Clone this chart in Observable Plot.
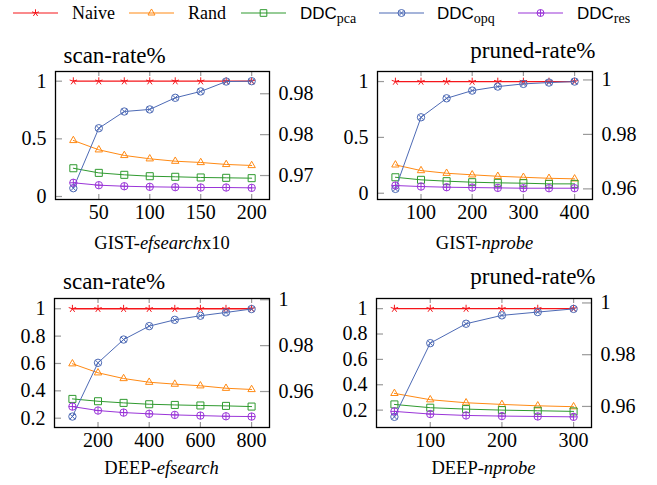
<!DOCTYPE html>
<html><head><meta charset="utf-8">
<script src="https://cdn.jsdelivr.net/npm/d3@7"></script>
<script src="https://cdn.jsdelivr.net/npm/@observablehq/plot@0.6"></script>
</head>
<body style="margin:0;background:#fff">
<div id="wrap" style="position:relative;width:657px;height:485px;overflow:hidden;background:#fff"></div>
<script>
// ---- data ----
const seriesNames = ["Naive","Rand","DDC_pca","DDC_opq","DDC_res"];
// GIST-efsearch x10
const xGE = [25,50,75,100,125,150,175,200];
const naiveGE = [1,1,1,1,1,1,1,1];
const randGE = [0.486,0.405,0.356,0.327,0.306,0.295,0.278,0.269];
const pcaGE  = [0.245,0.205,0.188,0.176,0.171,0.165,0.162,0.159];
const opqGE  = [0.072,0.592,0.737,0.755,0.856,0.911,0.997,1.0];
const resGE  = [0.119,0.098,0.089,0.084,0.081,0.078,0.078,0.075];
// GIST-nprobe
const xGN = [50,100,150,200,250,300,350,400];
const naiveGN = [1,1,1,1,1,1,1,1];
const randGN = [0.254,0.203,0.179,0.165,0.152,0.143,0.134,0.129];
const pcaGN  = [0.143,0.12,0.108,0.099,0.093,0.09,0.084,0.084];
const opqGN  = [0.039,0.68,0.85,0.919,0.955,0.979,0.991,1.0];
const resGN  = [0.069,0.06,0.054,0.051,0.048,0.045,0.045,0.045];
// DEEP-efsearch
const xDE = [100,200,300,400,500,600,700,800];
const naiveDE = [1,1,1,1,1,1,1,1];
const randDE = [0.598,0.532,0.49,0.463,0.449,0.437,0.419,0.41];
const pcaDE  = [0.341,0.324,0.312,0.302,0.297,0.293,0.29,0.285];
const opqDE  = [0.212,0.605,0.775,0.873,0.919,0.949,0.973,0.998];
const resDE  = [0.285,0.256,0.241,0.232,0.224,0.219,0.214,0.212];
// DEEP-nprobe
const xDN = [50,100,150,200,250,300];
const naiveDN = [1,1,1,1,1,1];
const randDN = [0.332,0.282,0.258,0.245,0.234,0.227];
const pcaDN  = [0.245,0.219,0.208,0.2,0.195,0.19];
const opqDN  = [0.147,0.728,0.881,0.947,0.973,0.998];
const resDN  = [0.19,0.169,0.158,0.153,0.15,0.147];
// tick labels
const xTicksGE = [50,100,150,200], xTicksGN = [100,200,300,400], xTicksDE = [200,400,600,800], xTicksDN = [100,200,300];
const yTicksG = [0,0.5,1], yTicksD = [0.2,0.4,0.6,0.8,1];
const rTicksGE = [0.98,0.975,0.97], rLabelsGE = ["0.98","0.98","0.97"];
const rTicks = [1,0.98,0.96], rLabels = ["1","0.98","0.96"];

// ---- styles ----
const SANS = "Liberation Sans, sans-serif";
const colors = ["#f5161b","#ff8a14","#2f9a2f","#4d6ab5","#9a35d8"];
const Rr = s => Math.sqrt(s/Math.PI);
const symStar = {draw(c,s){const r=Rr(s)*1.05;for(let k=0;k<5;k++){const a=-Math.PI/2+k*2*Math.PI/5;c.moveTo(0,0);c.lineTo(r*Math.cos(a),r*Math.sin(a));}}};
const symTri = {draw(c,s){const r=Rr(s)*1.15;c.moveTo(0,-r);c.lineTo(r*0.866,r*0.5);c.lineTo(-r*0.866,r*0.5);c.closePath();}};
const symSq = {draw(c,s){const h=Rr(s)*0.95;c.moveTo(-h,-h);c.lineTo(h,-h);c.lineTo(h,h);c.lineTo(-h,h);c.closePath();}};
const symOtimes = {draw(c,s){const r=Rr(s);c.moveTo(r,0);c.arc(0,0,r,0,2*Math.PI);const d=r*0.7071;c.moveTo(-d,-d);c.lineTo(d,d);c.moveTo(-d,d);c.lineTo(d,-d);}};
const symOplus = {draw(c,s){const r=Rr(s);c.moveTo(r,0);c.arc(0,0,r,0,2*Math.PI);c.moveTo(-r,0);c.lineTo(r,0);c.moveTo(0,-r);c.lineTo(0,r);}};
const symbols = [symStar,symTri,symSq,symOtimes,symOplus];

const wrap = document.getElementById("wrap");

function panel(o){
  const fw = o.width - o.ml - o.mr, fh = o.height - o.mt - o.mb;
  const [y0,y1] = o.yDomain, [r0,r1] = o.rDomain;
  const rToY = r => y0 + (r - r0)/(r1 - r0)*(y1 - y0);
  const rPos = o.rTicks.map(rToY);
  const rMap = new Map(rPos.map((p,i)=>[p,o.rLabels[i]]));
  const marks = [
    Plot.tickY(o.yTicks,{y:d=>d,insetRight:fw-7,stroke:"#9a9a9a",strokeWidth:1.2}),
    Plot.tickY(rPos,{y:d=>d,insetLeft:fw-9,stroke:"#9a9a9a",strokeWidth:1.2}),
    Plot.tickX(o.xTicks,{x:d=>d,insetBottom:fh-5,stroke:"#9a9a9a",strokeWidth:1.2}),
    Plot.tickX(o.xTicks,{x:d=>d,insetTop:fh-5,stroke:"#9a9a9a",strokeWidth:1.2}),
  ];
  o.series.forEach((vals,k)=>{
    const data = o.x.map((xv,i)=>({x:xv,y:vals[i]}));
    marks.push(Plot.line(data,{x:"x",y:"y",stroke:colors[k],strokeWidth:k===0?1.3:1}));
    marks.push(Plot.dot(data,{x:"x",y:"y",r:3.7,symbol:symbols[k],stroke:colors[k],fill:"none",strokeWidth:1}));
  });
  const font = {fontSize:20,fill:"#000"};
  marks.push(
    Plot.axisX({ticks:o.xTicks,tickSize:0,tickPadding:5,label:null,tickFormat:d=>`${d}`,...font}),
    Plot.axisY({anchor:"left",ticks:o.yTicks,tickSize:0,tickPadding:9,label:null,tickFormat:d=>`${d}`,...font}),
    Plot.axisY({anchor:"right",ticks:rPos,tickSize:0,tickPadding:9,label:null,tickFormat:d=>rMap.get(d),...font}),
    Plot.text([o.title],{frameAnchor:o.titleAnchor,textAnchor:o.titleAnchor==="top-left"?"start":"end",lineAnchor:"bottom",dx:o.tdx,dy:o.tdy,fontSize:23,fill:"#000"}),
    Plot.frame({stroke:"#000",strokeWidth:1.3})
  );
  const svg = Plot.plot({
    width:o.width,height:o.height,marginLeft:o.ml,marginRight:o.mr,marginTop:o.mt,marginBottom:o.mb,
    x:{domain:o.xDomain},y:{domain:o.yDomain},
    style:{fontSize:"20px",background:"transparent",overflow:"visible",position:"absolute",left:o.left+"px",top:o.top+"px",maxWidth:"none"},
    marks
  });
  svg.removeAttribute("font-family");
  svg.style.fontFamily = "inherit";
  wrap.appendChild(svg);
  const cap = document.createElement("div");
  cap.innerHTML=o.caption;
  const cx = o.left + o.ml + fw/2;
  Object.assign(cap.style,{position:"absolute",width:"240px",textAlign:"center",fontSize:"18.5px",lineHeight:"22px",color:"#000",left:(cx-120)+"px",top:(o.capY-11)+"px"});
  wrap.appendChild(cap);
}

panel({left:0,top:30,width:328,height:225,ml:55,mr:59,mt:41,mb:56,
  x:xGE,series:[naiveGE,randGE,pcaGE,opqGE,resGE],xDomain:[7.5,217.5],yDomain:[-0.026,1.084],
  xTicks:xTicksGE,yTicks:yTicksG,rDomain:[0.96707,0.98272],rTicks:rTicksGE,rLabels:rLabelsGE,
  title:"scan-rate%",titleAnchor:"top-left",tdx:8,tdy:-9,caption:"GIST-<i>efsearch</i>x10",capY:243});
panel({left:328,top:30,width:329,height:225,ml:49,mr:65,mt:41,mb:56,
  x:xGN,series:[naiveGN,randGN,pcaGN,opqGN,resGN],xDomain:[15,435],yDomain:[-0.056,1.09],
  xTicks:xTicksGN,yTicks:yTicksG,rDomain:[0.9561,1.0031],rTicks:rTicks,rLabels:rLabels,
  title:"pruned-rate%",titleAnchor:"top-right",tdx:3,tdy:-14,caption:"GIST-<i>nprobe</i>",capY:243});
panel({left:0,top:255,width:328,height:230,ml:54,mr:59,mt:43,mb:58,
  x:xDE,series:[naiveDE,randDE,pcaDE,opqDE,resDE],xDomain:[30,870],yDomain:[0.132,1.075],
  xTicks:xTicksDE,yTicks:yTicksD,rDomain:[0.94432,1.00054],rTicks:rTicks,rLabels:rLabels,
  title:"scan-rate%",titleAnchor:"top-left",tdx:8.5,tdy:-10,caption:"DEEP-<i>efsearch</i>",capY:468});
panel({left:328,top:255,width:329,height:230,ml:48,mr:66,mt:43,mb:58,
  x:xDN,series:[naiveDN,randDN,pcaDN,opqDN,resDN],xDomain:[25,325],yDomain:[0.063,1.08],
  xTicks:xTicksDN,yTicks:yTicksD,rDomain:[0.95186,1.00172],rTicks:rTicks,rLabels:rLabels,
  title:"pruned-rate%",titleAnchor:"top-right",tdx:4,tdy:-15,caption:"DEEP-<i>nprobe</i>",capY:468});

// ---- legend ----
const legendItems = [
  {x0:13,tx:72,name:"Naive"},{x0:129,tx:188,name:"Rand"},{x0:241,tx:300,name:"DDC",sub:"pca"},
  {x0:379,tx:437,name:"DDC",sub:"opq"},{x0:518,tx:577,name:"DDC",sub:"res"}];
const lg = d3.create("svg").attr("width",657).attr("height",30)
  .style("position","absolute").style("left","0px").style("top","0px");
legendItems.forEach((it,k)=>{
  const g = lg.append("g");
  g.append("line").attr("x1",it.x0).attr("x2",it.x0+45).attr("y1",13).attr("y2",13).attr("stroke",colors[k]).attr("stroke-width",1.2);
  g.append("path").attr("d",d3.symbol(symbols[k],Math.PI*3.5*3.5)()).attr("transform",`translate(${it.x0+22.5},13)`).attr("fill","none").attr("stroke",colors[k]);
  const t = g.append("text").attr("x",it.tx).attr("y",19).attr("fill","#000");
  if(it.sub){
    t.append("tspan").text(it.name).style("font-family",SANS).style("font-size","17px");
    t.append("tspan").text(it.sub).style("font-size","14px").attr("dy",4);
  } else {
    t.text(it.name).style("font-size","18px");
  }
});
wrap.appendChild(lg.node());
</script></body></html>
